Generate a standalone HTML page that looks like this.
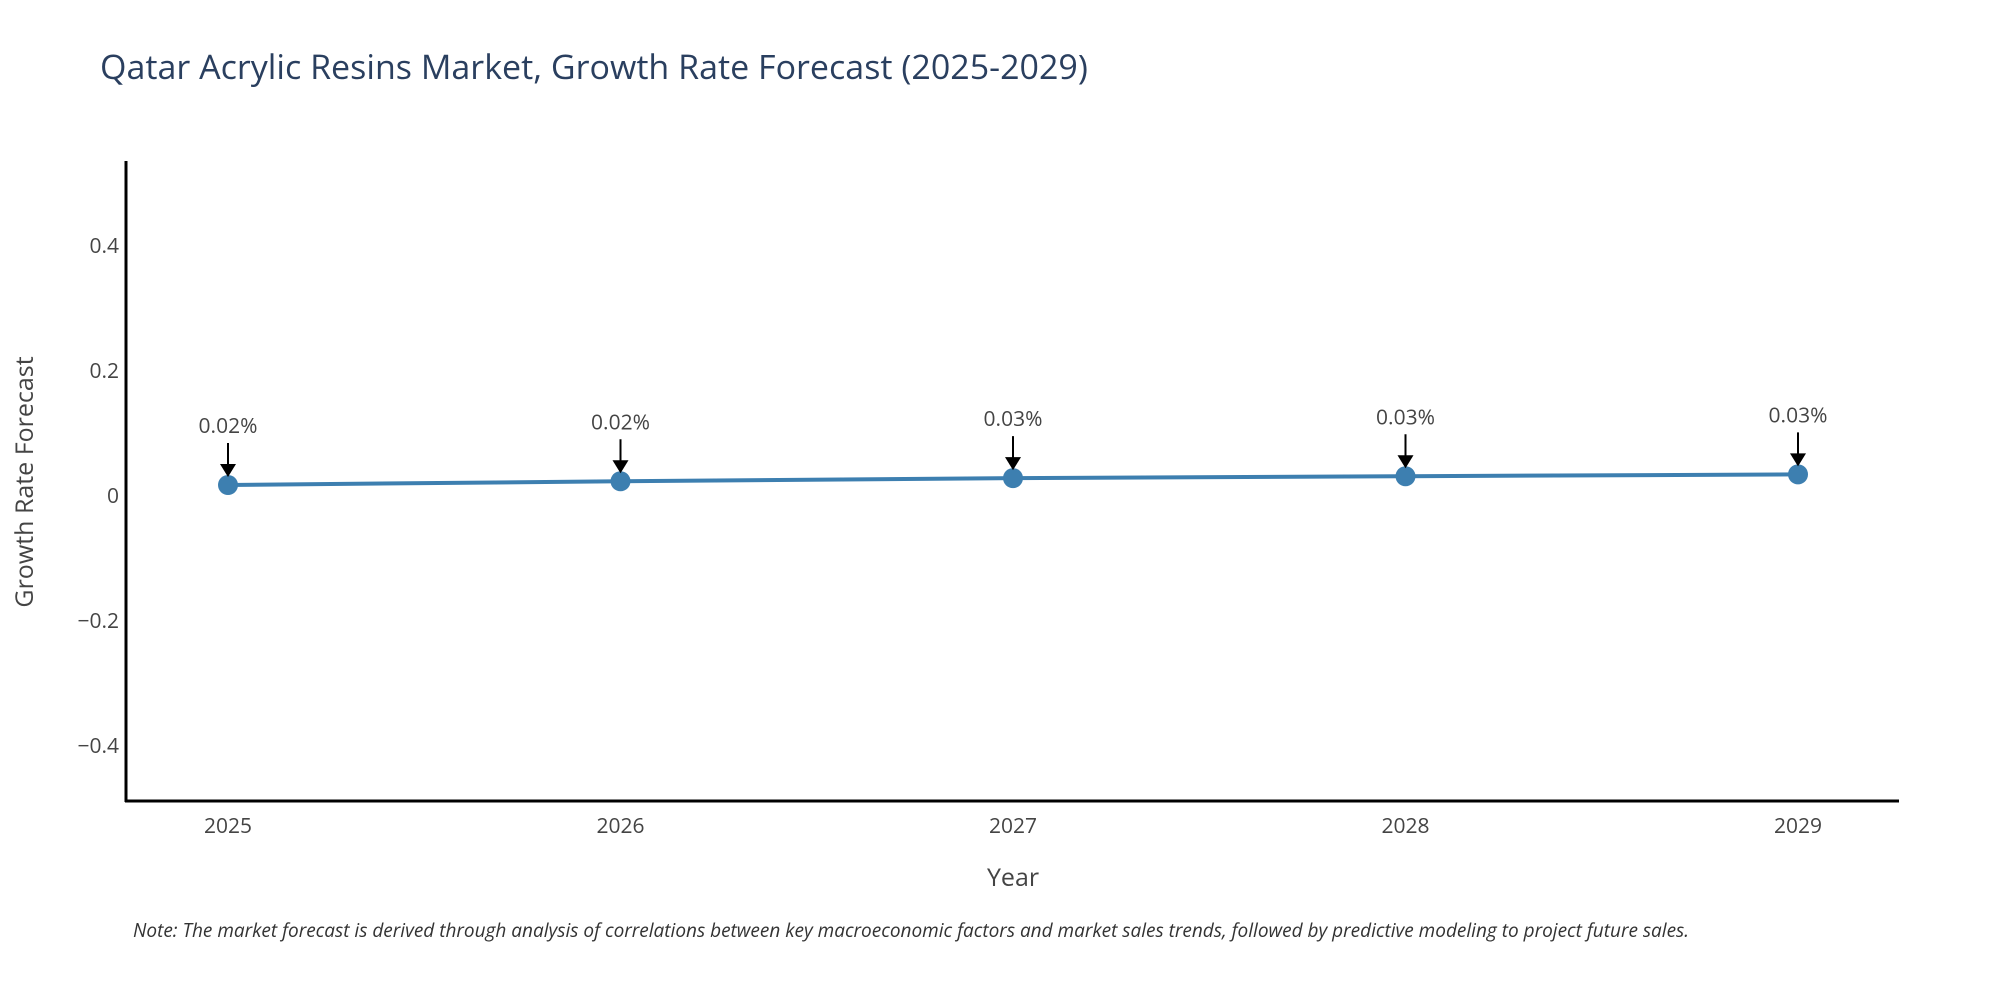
<!DOCTYPE html>
<html><head><meta charset="utf-8"><style>
html,body{margin:0;padding:0;background:#fff;}
svg{display:block;font-family:"Open Sans","Liberation Sans",sans-serif;}
</style></head><body>
<svg id="chart" width="2000" height="1000" viewBox="0 0 2000 1000" xmlns="http://www.w3.org/2000/svg">
<rect width="2000" height="1000" fill="#fff"/>
<text x="100" y="79" font-size="34" fill="#2a3f5f">Qatar Acrylic Resins Market, Growth Rate Forecast (2025-2029)</text>
<g id="yticks"></g>
<g id="xticks"></g>
<line x1="126" y1="161" x2="126" y2="802" stroke="#000" stroke-width="3"/>
<line x1="125" y1="801" x2="1899" y2="801" stroke="#000" stroke-width="3"/>
<g id="series"></g>
<g id="annos"></g>
<text x="1013" y="886" font-size="25" fill="#444" text-anchor="middle">Year</text>
<text transform="translate(33,482) rotate(-90)" font-size="25" fill="#444" text-anchor="middle">Growth Rate Forecast</text>
<text x="133" y="937" font-size="19" font-style="italic" fill="#333">Note: The market forecast is derived through analysis of correlations between key macroeconomic factors and market sales trends, followed by predictive modeling to project future sales.</text>
</svg>
<script>
const years = [2025, 2026, 2027, 2028, 2029];
const growth = [0.016, 0.022, 0.027, 0.030, 0.033];
const labels = ["0.02%", "0.02%", "0.03%", "0.03%", "0.03%"];
const yTickValues = [0.4, 0.2, 0, -0.2, -0.4];
const yTickLabels = ["0.4", "0.2", "0", "\u22120.2", "\u22120.4"];

const NS = "http://www.w3.org/2000/svg";
const xScale = v => 228 + (v - 2025) * 392.5;
const yScale = v => 495 - v * 625;
function mk(tag, attrs, parent){const e=document.createElementNS(NS,tag);for(const k in attrs)e.setAttribute(k,attrs[k]);parent.appendChild(e);return e;}

const yt = document.getElementById('yticks');
yTickValues.forEach((v,i)=>{
  const t = mk('text',{x:119,y:yScale(v)+8,'font-size':21,fill:'#444','text-anchor':'end'},yt);
  
  
  t.textContent = yTickLabels[i];
});
const xt = document.getElementById('xticks');
years.forEach(y=>{
  const t = mk('text',{x:xScale(y),y:833,'font-size':21,fill:'#444','text-anchor':'middle'},xt);
  
  
  t.textContent = String(y);
});
const s = document.getElementById('series');
const pts = years.map((y,i)=>xScale(y)+','+yScale(growth[i])).join(' ');
const pl = mk('polyline',{points:pts,fill:'none',stroke:'#3d7fb0','stroke-width':4},s);


years.forEach((y,i)=>{
  const c = mk('circle',{cx:xScale(y),cy:yScale(growth[i]),r:10,fill:'#3d7fb0'},s);
  
  
});
const a = document.getElementById('annos');
years.forEach((y,i)=>{
  const x = xScale(y), cy = yScale(growth[i]);
  const ln = mk('line',{x1:x,y1:cy-42,x2:x,y2:cy-20,stroke:'#000','stroke-width':2},a);
  
  
  const hd = mk('polygon',{points:`${x-8},${cy-21} ${x+8},${cy-21} ${x},${cy-8}`,fill:'#000'},a);
  
  
  const t = mk('text',{x:x,y:cy-52,'font-size':21,fill:'#444','text-anchor':'middle'},a);
  
  
  t.textContent = labels[i];
});
</script>
</body></html>
